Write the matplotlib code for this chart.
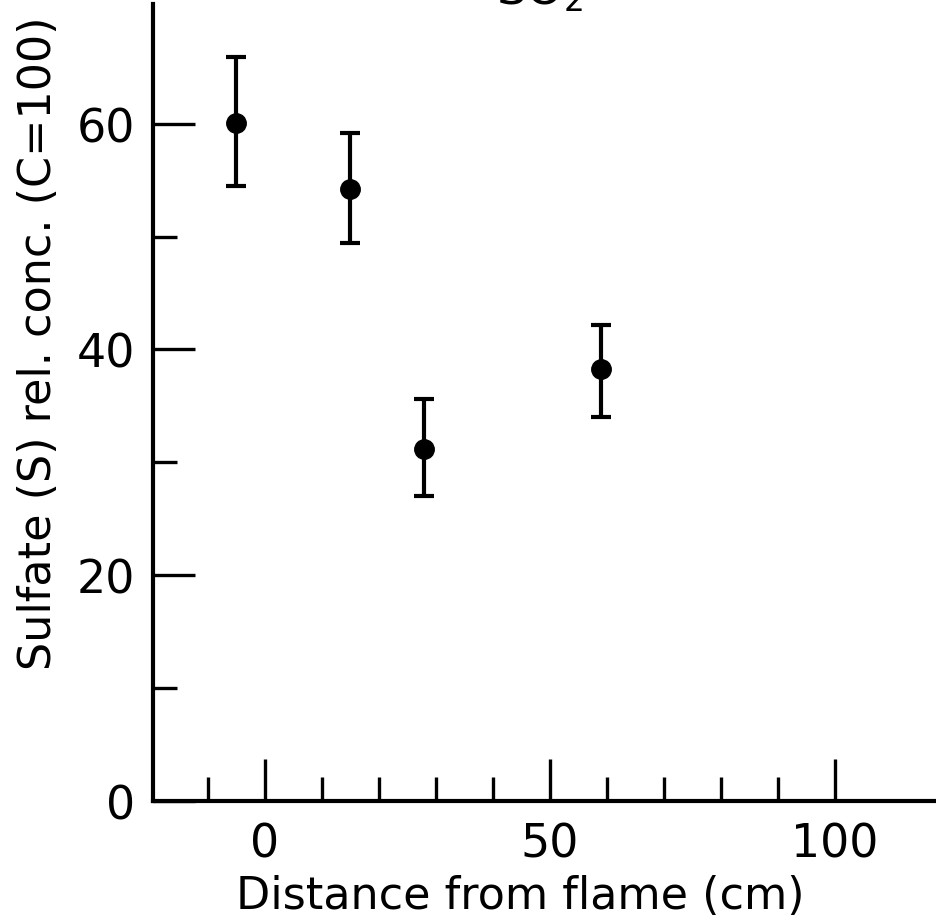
import matplotlib.pyplot as plt
import numpy as np

# data
distance = [-5, 15, 28, 59]
sulfate = [60.1, 54.2, 31.2, 38.3]
err_low = [54.5, 49.4, 27.0, 34.0]
err_high = [65.9, 59.2, 35.6, 42.2]

x_major = [0, 50, 100]
x_minor = [-10, 10, 20, 30, 40, 60, 70, 80, 90]
y_major = [0, 20, 40, 60]
y_minor = [10, 30, 50]

plt.rcParams['font.family'] = ['DejaVu Sans']

fig = plt.figure(figsize=(9.36, 9.2), dpi=100)
ax = fig.add_axes([153 / 936, 118 / 920, 1 - 153 / 936, 797 / 920])

y = np.array(sulfate)
yerr = [y - np.array(err_low), np.array(err_high) - y]
ax.errorbar(distance, sulfate, yerr=yerr, fmt='o', color='black',
            markersize=14, elinewidth=3, capsize=7, capthick=3)

ax.set_xlim(-19.6, 117.8)
ax.set_ylim(0, 70.6)

ax.spines['top'].set_visible(False)
ax.spines['right'].set_visible(False)
ax.spines['left'].set_linewidth(3)
ax.spines['bottom'].set_linewidth(3)

ax.set_xticks(x_major)
ax.set_xticks(x_minor, minor=True)
ax.set_yticks(y_major)
ax.set_yticks(y_minor, minor=True)
ax.tick_params(which='major', direction='in', length=30, width=2.4,
               labelsize=33, pad=13)
ax.tick_params(which='minor', direction='in', length=17, width=2.4)
ax.tick_params(axis='x', which='major', pad=15)

ax.set_xlabel('Distance from flame (cm)', fontsize=32)
ax.xaxis.set_label_coords(0.469, -0.0916)
ax.set_ylabel('Sulfate (S) rel. conc. (C=100)', fontsize=32)
ax.yaxis.set_label_coords(-0.119, 0.575)

# title is cut off at the top edge, as in the original scan
fig.text(540 / 936, 1 - 4 / 920, 'SO$_2$', fontsize=34, ha='center',
         va='baseline')

fig.savefig('out.png', dpi=100)
